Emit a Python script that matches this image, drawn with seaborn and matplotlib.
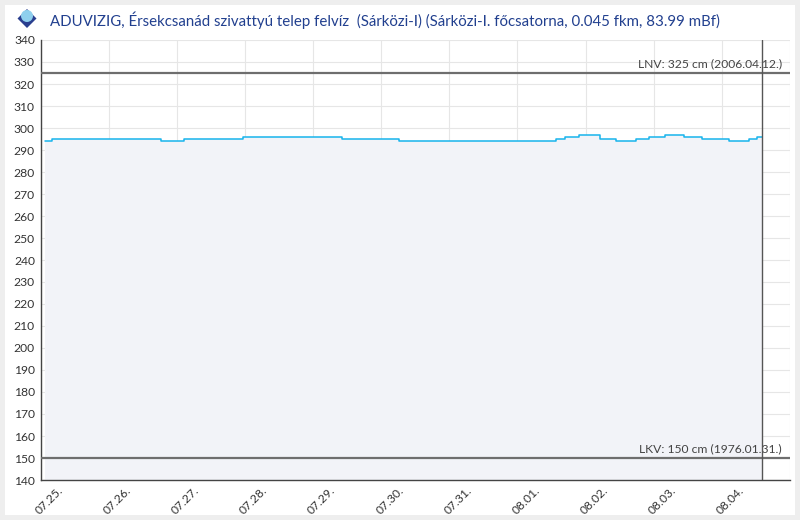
import pandas as pd
import matplotlib.pyplot as plt
from matplotlib.patches import Rectangle, RegularPolygon, Circle
from matplotlib.transforms import ScaledTranslation
import seaborn as sns

# water level readings (cm), value holds until the next timestamp
times = ["2025-07-25 01:36", "2025-07-25 04:12", "2025-07-26 18:30", "2025-07-27 02:24",
         "2025-07-27 23:12", "2025-07-29 10:18", "2025-07-30 06:18", "2025-08-01 13:36",
         "2025-08-01 16:48", "2025-08-01 21:42", "2025-08-02 05:06", "2025-08-02 10:48",
         "2025-08-02 17:48", "2025-08-02 22:24", "2025-08-03 04:06", "2025-08-03 10:48",
         "2025-08-03 17:06", "2025-08-04 02:36", "2025-08-04 09:42", "2025-08-04 12:30",
         "2025-08-04 14:10"]
levels = [294, 295, 294, 295, 296, 295, 294, 295, 296, 297, 295, 294,
          295, 296, 297, 296, 295, 294, 295, 296, 296]

lnv_value = 325
lnv_label = "LNV: 325 cm (2006.04.12.)"
lkv_value = 150
lkv_label = "LKV: 150 cm (1976.01.31.)"
now_time = "2025-08-04 14:10"

day_ticks = pd.date_range("2025-07-25", "2025-08-05", freq="D")
day_labels = [d.strftime("%m.%d.") for d in day_ticks[:-1]] + [""]
y_ticks = list(range(140, 341, 10))

title = "ADUVIZIG, Érsekcsanád szivattyú telep felvíz  (Sárközi-I) (Sárközi-I. főcsatorna, 0.045 fkm, 83.99 mBf)"

df = pd.DataFrame({"time": pd.to_datetime(times), "level": levels})

sns.set_style("whitegrid")
plt.rcParams['font.family'] = ['Lato', 'DejaVu Sans']

fig = plt.figure(figsize=(8, 5.2), dpi=100, facecolor="#eeeeee")
fig.patches.append(Rectangle((5 / 800, 5 / 520), 790 / 800, 510 / 520, transform=fig.transFigure,
                             facecolor="white", edgecolor="none", zorder=-5))
ax = fig.add_axes([40.5 / 800, 40 / 520, 749.5 / 800, 440 / 520])
ax.set_facecolor("white")

ax.fill_between(df["time"], df["level"], 140, step="post", color="#f2f3f8", lw=0, zorder=1)
sns.lineplot(data=df, x="time", y="level", ax=ax, drawstyle="steps-post",
             color="#18b4ec", lw=1.1, zorder=3)

ax.axhline(lnv_value, color="#6e6e6e", lw=1.6, zorder=4)
ax.axhline(lkv_value, color="#6e6e6e", lw=1.6, zorder=4)
ax.axvline(pd.Timestamp(now_time), color="#555555", lw=1.0, zorder=5)

for val, lab in [(lnv_value, lnv_label), (lkv_value, lkv_label)]:
    ax.annotate(lab, xy=(1, val), xycoords=ax.get_yaxis_transform(), xytext=(-6, 3),
                textcoords="offset points", ha="right", va="bottom", fontsize=8.7, color="#444444")

ax.set_xlim(day_ticks[0], day_ticks[-1])
ax.set_ylim(140, 340)
ax.set_xticks(day_ticks)
ax.set_xticklabels(day_labels, rotation=45, ha="center", va="top")
ax.set_yticks(y_ticks)
ax.set_xlabel("")
ax.set_ylabel("")
ax.grid(True, color="#e6e6e6", lw=0.8)
ax.tick_params(axis="both", direction="in", length=3.8, width=1, color="#444444",
               labelsize=8.7, labelcolor="#333333")
ax.tick_params(axis="y", pad=4)
ax.tick_params(axis="x", pad=3.5)
shift = ScaledTranslation(8.5 / 100, 0, fig.dpi_scale_trans)
for lbl in ax.get_xticklabels():
    lbl.set_transform(lbl.get_transform() + shift)
for side in ["top", "right"]:
    ax.spines[side].set_visible(False)
for side in ["left", "bottom"]:
    ax.spines[side].set_color("#444444")
    ax.spines[side].set_linewidth(1.0)

# logo + title
fig.patches.append(RegularPolygon((0.27, 5.2 - 0.185), 4, radius=0.095, transform=fig.dpi_scale_trans,
                                  facecolor="#2a3f8f", edgecolor="none"))
fig.patches.append(Circle((0.27, 5.2 - 0.16), 0.06, transform=fig.dpi_scale_trans,
                          facecolor="#8fd0ee", edgecolor="none"))
fig.text(50 / 800, 1 - 20 / 520, title, fontsize=10.8, color="#22408f", va="center", ha="left")

fig.savefig("out.png", dpi=100, facecolor=fig.get_facecolor())
